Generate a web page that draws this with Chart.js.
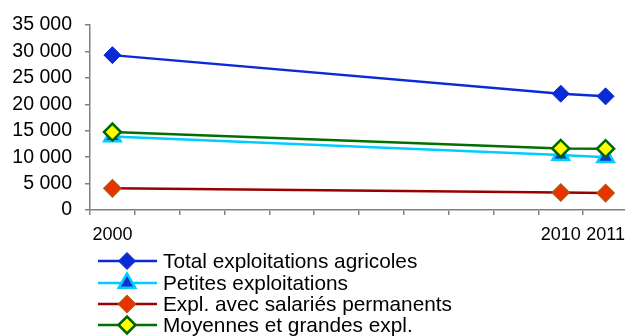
<!DOCTYPE html>
<html>
<head>
<meta charset="utf-8">
<script src="https://cdn.jsdelivr.net/npm/chart.js@4/dist/chart.umd.min.js"></script>
<style>
  html, body { margin: 0; padding: 0; background: #fff; overflow: hidden; }
  #wrap { width: 640px; height: 336px; position: relative; }
</style>
</head>
<body>
<div id="wrap"><canvas id="chart"></canvas></div>
<script>
  // x categories (only 2000, 2010, 2011 carry data and a label)
  const years = ['2000', '2001', '2002', '2003', '2004', '2005', '2006', '2007', '2008', '2009', '2010', '2011'];
  const labeledYears = ['2000', '2010', '2011'];

  const seriesNames = [
    'Total exploitations agricoles',
    'Petites exploitations',
    'Expl. avec salariés permanents',
    'Moyennes et grandes expl.'
  ];

  const totalValues   = [29300, null, null, null, null, null, null, null, null, null, 22000, 21500];
  const petitesValues = [13900, null, null, null, null, null, null, null, null, null, 10400, 10000];
  const salariesValues = [4100, null, null, null, null, null, null, null, null, null, 3300, 3200];
  const moyennesValues = [14750, null, null, null, null, null, null, null, null, null, 11650, 11600];

  const yMin = 0;
  const yMax = 35000;
  const yStep = 5000;

  const FONT = '"Liberation Sans", Arial, sans-serif';

  function fmt(v) {
    return String(v).replace(/\B(?=(\d{3})+(?!\d))/g, ' ');
  }

  function series(label, data, line, fill, border, style, radius, bw, order) {
    return {
      label: label,
      data: data,
      borderColor: line,
      borderWidth: 2.5,
      backgroundColor: fill,
      pointBackgroundColor: fill,
      pointBorderColor: border,
      pointBorderWidth: bw,
      pointStyle: style,
      pointRadius: radius,
      pointHoverRadius: radius,
      spanGaps: true,
      tension: 0,
      order: order
    };
  }

  const datasets = [
    series(seriesNames[0], totalValues, '#0B2AD6', '#0B2AD6', '#0B2AD6', 'rectRot', 8.5, 1, 3),
    series(seriesNames[1], petitesValues, '#00CCFF', '#1630D0', '#00CCFF', 'triangle', 9.5, 2.5, 2),
    series(seriesNames[2], salariesValues, '#990000', '#E83200', '#C05000', 'rectRot', 8.5, 1.5, 1),
    series(seriesNames[3], moyennesValues, '#007000', '#FFFF00', '#006600', 'rectRot', 8.5, 2.5, 0)
  ];

  // legend: line with marker, one entry per row under the axis
  const lineLegend = {
    id: 'lineLegend',
    afterDraw(chart) {
      const ctx = chart.ctx;
      const rowY = [261, 283, 304, 325];
      ctx.save();
      chart.data.datasets.forEach((ds, i) => {
        const y = rowY[i];
        ctx.beginPath();
        ctx.strokeStyle = ds.borderColor;
        ctx.lineWidth = 2.5;
        ctx.moveTo(98, y);
        ctx.lineTo(157, y);
        ctx.stroke();
        ctx.fillStyle = ds.pointBackgroundColor;
        ctx.strokeStyle = ds.pointBorderColor;
        ctx.lineWidth = ds.pointBorderWidth;
        Chart.helpers.drawPoint(ctx, {
          pointStyle: ds.pointStyle,
          radius: ds.pointRadius,
          rotation: 0,
          borderWidth: ds.pointBorderWidth
        }, 127, y);
        ctx.fillStyle = '#000';
        ctx.font = '20.8px ' + FONT;
        ctx.textBaseline = 'middle';
        ctx.textAlign = 'left';
        ctx.fillText(ds.label, 163, y + 1);
      });
      ctx.restore();
    }
  };

  new Chart(document.getElementById('chart'), {
    type: 'line',
    data: { labels: years, datasets: datasets },
    plugins: [lineLegend],
    options: {
      responsive: true,
      maintainAspectRatio: false,
      animation: false,
      layout: { padding: { top: 25, right: 10, bottom: 0, left: 0 } },
      plugins: {
        legend: { display: false },
        tooltip: { enabled: false }
      },
      scales: {
        x: {
          type: 'category',
          offset: true,
          grid: { offset: true, drawOnChartArea: false, color: '#808080', tickLength: 5, lineWidth: 1.5 },
          border: { display: true, color: '#808080', width: 1.5 },
          ticks: {
            autoSkip: false,
            maxRotation: 0,
            padding: 9,
            color: '#000',
            font: { family: FONT, size: 18 },
            callback: (v, i) => labeledYears.includes(years[i]) ? years[i] : ''
          },
          afterFit(scale) {
            scale.height = 126;
            scale.paddingLeft = 0;
            scale.paddingRight = 0;
          }
        },
        y: {
          min: yMin,
          max: yMax,
          grid: { drawOnChartArea: false, color: '#808080', tickLength: 5, lineWidth: 1.5 },
          border: { display: true, color: '#808080', width: 1.5 },
          ticks: {
            stepSize: yStep,
            padding: 13,
            color: '#000',
            font: { family: FONT, size: 19.5 },
            callback: v => fmt(v)
          },
          afterFit(scale) {
            scale.width = 90;
            scale.paddingTop = 0;
            scale.paddingBottom = 0;
          }
        }
      }
    }
  });
</script>
</body>
</html>
